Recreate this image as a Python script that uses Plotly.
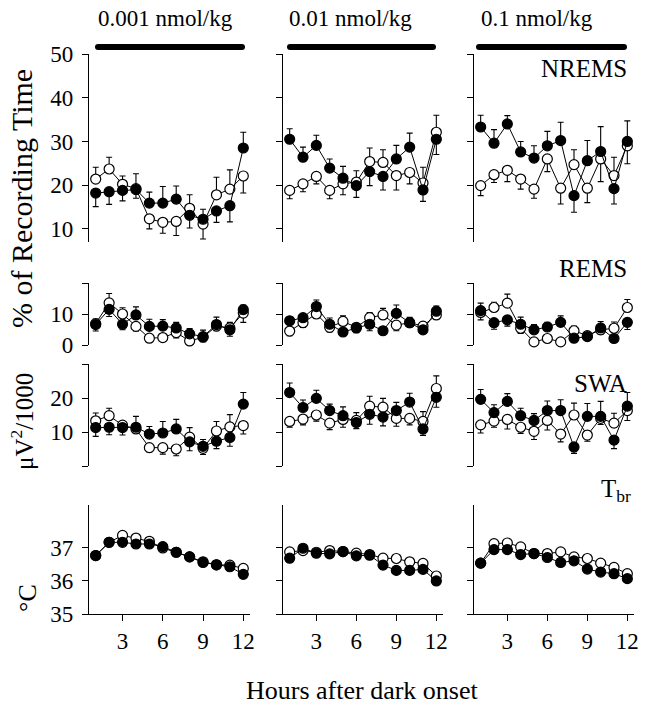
import plotly.graph_objects as go

W, H = 646, 720
FONT = "Liberation Serif"

hours = list(range(1, 13))

# ---------------- data (mean values; signed SEM: + = bar up, - = bar down) -------------
# NREMS (% of recording time)
nrems_001_filled = [18.2, 18.5, 18.8, 19.0, 15.9, 15.9, 16.8, 13.1, 12.2, 14.1, 15.3, 28.5]
nrems_001_filled_err = [-3.1, -2.9, -2.4, 3.6, 2.5, 3.8, 3.0, -2.9, 2.3, -2.6, -3.7, 3.6]
nrems_001_open = [21.4, 23.7, 20.2, 19.2, 12.3, 11.5, 11.7, 14.7, 11.1, 17.8, 19.1, 22.1]
nrems_001_open_err = [2.7, 2.7, 1.9, -2.2, -2.3, -2.5, -3.2, 3.1, -3.4, 4.0, 4.4, -3.9]

nrems_01_filled = [30.5, 26.4, 29.1, 23.9, 21.6, 19.9, 23.1, 22.0, 26.0, 28.7, 18.9, 30.5]
nrems_01_filled_err = [2.4, 2.3, 2.3, 2.1, 2.7, -2.7, -3.2, -3.1, 3.1, 3.2, -2.6, -3.5]
nrems_01_open = [18.8, 20.3, 22.0, 18.8, 20.3, 20.7, 25.4, 25.2, 22.2, 22.9, 20.5, 32.1]
nrems_01_open_err = [-1.9, -1.8, -1.7, -1.9, -2.5, 2.6, 3.1, 2.9, -3.3, -2.6, 3.6, 3.9]

nrems_1_filled = [33.3, 29.6, 34.0, 27.6, 26.2, 29.0, 30.2, 17.6, 25.6, 27.7, 19.2, 30.0]
nrems_1_filled_err = [2.7, 3.1, 1.9, 2.4, 2.8, 3.3, 4.2, -3.8, 4.6, 5.7, -3.5, 4.7]
nrems_1_open = [19.9, 22.4, 23.4, 21.4, 19.1, 26.0, 19.3, 24.7, 19.3, 26.0, 22.2, 29.0]
nrems_1_open_err = [-2.3, -1.8, -2.6, -2.3, -2.1, -2.9, -3.6, 3.4, -3.3, -5.2, 4.2, -4.1]

# REMS (% of recording time)
rems_001_filled = [6.6, 11.5, 6.7, 9.7, 6.0, 6.1, 5.5, 3.6, 2.7, 6.6, 4.9, 11.4]
rems_001_filled_err = [-2.1, -2.3, -1.8, 2.6, 2.3, 2.1, 1.8, 1.7, 2.1, 2.4, -2.1, 1.5]
rems_001_open = [6.9, 13.6, 10.0, 6.0, 2.2, 2.4, 4.0, 1.3, 2.5, 6.1, 5.5, 10.3]
rems_001_open_err = [1.5, 3.0, 2.0, -1.5, -1.1, -1.2, -1.7, -0.9, -1.4, -1.5, 1.8, -3.0]

rems_01_filled = [7.8, 8.8, 12.4, 6.7, 4.2, 5.5, 6.7, 4.6, 10.2, 7.2, 4.9, 10.9]
rems_01_filled_err = [1.2, 1.2, 2.1, 2.0, -1.2, -1.5, -2.1, -1.2, 2.7, 1.7, -1.2, 1.7]
rems_01_open = [4.5, 7.2, 10.0, 5.7, 7.6, 5.7, 8.8, 9.7, 6.4, 7.2, 6.1, 9.7]
rems_01_open_err = [-1.5, -1.5, -1.4, -1.5, 1.8, 1.2, 1.7, 2.1, -1.8, -1.2, 1.2, -1.4]

rems_1_filled = [11.1, 7.2, 8.1, 6.7, 4.9, 5.8, 7.3, 2.2, 2.7, 5.5, 2.1, 7.3]
rems_1_filled_err = [2.4, -2.1, -2.0, 2.3, 1.7, 1.5, 2.1, -1.2, -1.1, 2.1, -1.2, -2.3]
rems_1_open = [10.5, 12.1, 13.5, 5.4, 1.0, 2.1, 1.0, 4.6, 3.0, 4.9, 5.4, 12.1]
rems_1_open_err = [-2.4, 1.7, 2.9, -1.7, -0.8, -0.9, -0.8, 1.5, 1.2, -1.4, 2.0, 2.6]

# SWA (uV^2/1000)
swa_001_filled = [11.3, 11.4, 11.3, 11.4, 9.4, 9.7, 10.9, 7.1, 5.8, 7.3, 8.4, 18.2]
swa_001_filled_err = [-2.6, -2.2, -2.2, 3.2, 2.2, 3.4, 2.8, -2.6, 2.0, -2.2, -2.6, 3.4]
swa_001_open = [13.3, 14.8, 12.0, 10.9, 5.4, 5.4, 5.0, 8.5, 5.2, 10.3, 11.5, 11.9]
swa_001_open_err = [2.3, 2.2, 1.0, -1.2, -1.3, -1.9, -2.0, 2.8, -1.8, 2.8, 3.6, -2.5]

swa_01_filled = [21.6, 17.2, 19.9, 16.3, 14.8, 12.8, 15.2, 14.4, 16.3, 18.8, 10.9, 20.2]
swa_01_filled_err = [2.8, 2.2, 2.4, 1.9, 2.6, -1.8, -2.9, -2.6, 2.4, 2.6, -1.9, -2.9]
swa_01_open = [13.1, 13.8, 15.0, 12.6, 13.7, 13.4, 17.6, 17.3, 14.0, 14.0, 13.1, 22.8]
swa_01_open_err = [-1.7, -1.7, -1.8, -1.9, -2.3, 2.3, 2.9, 2.6, -2.3, -1.9, 2.9, 3.7]

swa_1_filled = [19.6, 15.7, 19.0, 14.8, 13.4, 16.3, 16.3, 5.6, 14.6, 14.6, 7.6, 17.6]
swa_1_filled_err = [2.9, 2.3, 2.3, 2.2, 2.0, 2.8, 3.2, -1.9, 3.8, 4.4, -2.5, 4.0]
swa_1_open = [12.1, 13.2, 13.7, 11.4, 10.2, 13.4, 9.4, 15.0, 9.1, 14.0, 12.6, 16.3]
swa_1_open_err = [-2.4, -1.8, -2.8, -1.8, -2.4, -2.8, -2.3, 3.5, -1.8, -1.8, 2.9, -2.9]

# Brain temperature (deg C)
tbr_001_filled = [36.77, 37.17, 37.17, 37.12, 37.12, 37.04, 36.87, 36.73, 36.56, 36.49, 36.43, 36.20]
tbr_001_filled_err = [-0.05, -0.05, -0.06, -0.05, -0.05, -0.06, -0.05, -0.06, -0.05, -0.05, -0.06, -0.06]
tbr_001_open = [36.77, 37.17, 37.38, 37.30, 37.20, 37.00, 36.87, 36.73, 36.58, 36.49, 36.48, 36.38]
tbr_001_open_err = [0.05, 0.05, 0.06, 0.05, 0.05, 0.06, 0.05, 0.05, 0.05, 0.05, 0.06, 0.05]

tbr_01_filled = [36.69, 36.99, 36.84, 36.82, 36.89, 36.76, 36.78, 36.48, 36.32, 36.32, 36.35, 36.00]
tbr_01_filled_err = [-0.05, -0.05, -0.05, -0.06, -0.05, -0.05, -0.05, -0.06, -0.05, -0.05, -0.05, -0.06]
tbr_01_open = [36.88, 36.92, 36.87, 36.92, 36.89, 36.84, 36.80, 36.69, 36.68, 36.58, 36.53, 36.15]
tbr_01_open_err = [0.05, 0.05, 0.05, 0.05, 0.05, 0.05, 0.05, 0.06, 0.06, 0.06, 0.06, 0.06]

tbr_1_filled = [36.54, 36.95, 36.95, 36.80, 36.83, 36.71, 36.56, 36.61, 36.36, 36.27, 36.22, 36.07]
tbr_1_filled_err = [-0.05, -0.05, -0.05, -0.05, -0.05, -0.05, -0.05, -0.06, -0.05, -0.06, -0.05, -0.05]
tbr_1_open = [36.54, 37.13, 37.15, 37.03, 36.83, 36.83, 36.88, 36.73, 36.68, 36.54, 36.41, 36.22]
tbr_1_open_err = [0.05, 0.06, 0.06, 0.05, 0.05, 0.05, 0.05, 0.05, 0.05, 0.05, 0.05, 0.05]

dose_titles = ["0.001 nmol/kg", "0.01 nmol/kg", "0.1 nmol/kg"]
x_tickvals = [3, 6, 9, 12]
nrems_ticks = [10, 20, 30, 40, 50]
nrems_ticktext = ["10", "20", "30", "40", "50"]
rems_ticks = [0, 10, 20]
rems_ticktext = ["0", "10", ""]
swa_ticks = [0, 10, 20, 30]
swa_ticktext = ["", "10", "20", ""]
tbr_ticks = [35, 36, 37]
tbr_ticktext = ["35", "36", "37"]

panels = [
    [(nrems_001_filled, nrems_001_filled_err, nrems_001_open, nrems_001_open_err),
     (nrems_01_filled, nrems_01_filled_err, nrems_01_open, nrems_01_open_err),
     (nrems_1_filled, nrems_1_filled_err, nrems_1_open, nrems_1_open_err)],
    [(rems_001_filled, rems_001_filled_err, rems_001_open, rems_001_open_err),
     (rems_01_filled, rems_01_filled_err, rems_01_open, rems_01_open_err),
     (rems_1_filled, rems_1_filled_err, rems_1_open, rems_1_open_err)],
    [(swa_001_filled, swa_001_filled_err, swa_001_open, swa_001_open_err),
     (swa_01_filled, swa_01_filled_err, swa_01_open, swa_01_open_err),
     (swa_1_filled, swa_1_filled_err, swa_1_open, swa_1_open_err)],
    [(tbr_001_filled, tbr_001_filled_err, tbr_001_open, tbr_001_open_err),
     (tbr_01_filled, tbr_01_filled_err, tbr_01_open, tbr_01_open_err),
     (tbr_1_filled, tbr_1_filled_err, tbr_1_open, tbr_1_open_err)],
]
row_ticks = [(nrems_ticks, nrems_ticktext), (rems_ticks, rems_ticktext),
             (swa_ticks, swa_ticktext), (tbr_ticks, tbr_ticktext)]

# ---------------- layout geometry (pixels from top-left) ----------------
COLS = [(89, 250), (283, 443), (474, 634)]
ROWS = [(54.0, 242.0), (283.0, 345.0), (364.0, 466.0), (505.0, 614.0)]
YRANGES = [[7, 50], [0, 20], [0, 30], [35, 38.3]]


def px(x):
    return x / W


def py(y):
    return 1 - y / H


fig = go.Figure()
layout = {}

for r in range(4):
    for c in range(3):
        k = r * 3 + c + 1
        xn = "xaxis" if k == 1 else f"xaxis{k}"
        yn = "yaxis" if k == 1 else f"yaxis{k}"
        xr = "x" if k == 1 else f"x{k}"
        yr = "y" if k == 1 else f"y{k}"
        x0, x1 = COLS[c]
        y0, y1 = ROWS[r]
        tv, tt = row_ticks[r]
        layout[xn] = dict(
            domain=[px(x0), px(x1)], range=[0.5, 12.5], anchor=yr,
            visible=(r == 3), showgrid=False, zeroline=False,
            showline=True, linecolor="black", linewidth=1.3,
            ticks="outside", ticklen=6, tickwidth=1.3, tickcolor="black",
            tickvals=x_tickvals, ticktext=[str(v) for v in x_tickvals],
            tickfont=dict(family=FONT, size=23, color="black"),
            fixedrange=True,
        )
        layout[yn] = dict(
            domain=[py(y1), py(y0)], range=YRANGES[r], anchor=xr,
            showgrid=False, zeroline=False,
            showline=True, linecolor="black", linewidth=1.3,
            ticks="outside", ticklen=6, tickwidth=1.3, tickcolor="black",
            tickvals=tv, ticktext=tt, showticklabels=(c == 0),
            tickfont=dict(family=FONT, size=23, color="black"),
            ticklabelstandoff=4,
            fixedrange=True,
        )
        filled, ferr, opn, oerr = panels[r][c]
        for vals, errs, fill in ((opn, oerr, "white"), (filled, ferr, "black")):
            up = [e if e > 0 else 0 for e in errs]
            dn = [-e if e < 0 else 0 for e in errs]
            fig.add_trace(go.Scatter(
                x=hours, y=vals, xaxis=xr, yaxis=yr, mode="lines+markers",
                line=dict(color="black", width=1),
                marker=dict(symbol="circle", size=10, color=fill,
                            line=dict(color="black", width=1.2)),
                error_y=dict(type="data", symmetric=False, array=up, arrayminus=dn,
                             color="black", thickness=1.1, width=3),
                showlegend=False, cliponaxis=False, hoverinfo="skip",
            ))

# ---------------- black bars on top (treatment period) ----------------
shapes = []
BARS = [(95, 245), (287, 436), (476, 627)]
for bx0, bx1 in BARS:
    shapes.append(dict(type="rect", xref="paper", yref="paper",
                       x0=px(bx0 + 3), x1=px(bx1 - 3), y0=py(50), y1=py(44),
                       fillcolor="black", line=dict(width=0)))
    for cx in (bx0, bx1 - 6):
        shapes.append(dict(type="circle", xref="paper", yref="paper",
                           x0=px(cx), x1=px(cx + 6), y0=py(50), y1=py(44),
                           fillcolor="black", line=dict(width=0)))

# ---------------- annotations ----------------
ann = []
for (cx, title) in zip([165, 350, 537], dose_titles):
    ann.append(dict(text=title, x=px(cx), y=py(18), xref="paper", yref="paper",
                    showarrow=False, xanchor="center", yanchor="middle",
                    font=dict(family=FONT, size=23, color="black")))

for text, xr_, yc in [("NREMS", 629, 68), ("REMS", 629, 268), ("SWA", 629, 383),
                      ("T<sub>br</sub>", 633, 490)]:
    ann.append(dict(text=text, x=px(xr_), y=py(yc), xref="paper", yref="paper",
                    showarrow=False, xanchor="right", yanchor="middle",
                    font=dict(family=FONT, size=25, color="black")))

for text, xc, yc, fs in [("% of Recording Time", 21, 199, 30),
                         ("μV<sup>2</sup>/1000", 22, 422, 25),
                         ("°C", 27, 598, 26)]:
    ann.append(dict(text=text, x=px(xc), y=py(yc), xref="paper", yref="paper",
                    showarrow=False, xanchor="center", yanchor="middle", textangle=-90,
                    font=dict(family=FONT, size=fs, color="black")))

ann.append(dict(text="Hours after dark onset", x=px(362), y=py(690), xref="paper", yref="paper",
                showarrow=False, xanchor="center", yanchor="middle",
                font=dict(family=FONT, size=26, color="black")))

fig.update_layout(
    width=W, height=H, template="none",
    margin=dict(l=0, r=0, t=0, b=0, pad=0),
    paper_bgcolor="white", plot_bgcolor="white",
    showlegend=False, shapes=shapes, annotations=ann,
    font=dict(family=FONT, color="black"),
    **layout,
)

fig.write_html("out.html", config={"displayModeBar": False},
               post_script="document.body.style.margin='0px';document.body.style.overflow='hidden';")
